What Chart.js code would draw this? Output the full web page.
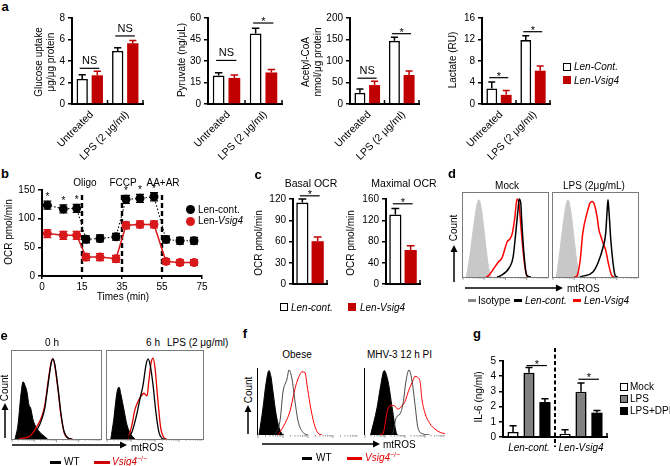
<!DOCTYPE html>
<html>
<head>
<meta charset="utf-8">
<title>Vsig4 figure</title>
<script src="https://cdn.jsdelivr.net/npm/chart.js@4.4.1/dist/chart.umd.min.js"></script>
<style>
  html, body { margin: 0; padding: 0; background: #fff; }
  #fig { position: relative; width: 670px; height: 466px; overflow: hidden;
         font-family: "Liberation Sans", Arial, sans-serif; color: #000; }
  #fig canvas { position: absolute; }
  .t { position: absolute; white-space: nowrap; font-size: 10px; line-height: 1; }
  .sq { position: absolute; box-sizing: border-box; }
  #fig svg { position: absolute; left: 0; top: 0; }
  sup { font-size: 7px; }
</style>
</head>
<body>
<div id="fig"></div>
<script>
/* ==========================================================================
DATA
========================================================================== */

// a: metabolites, groups = [Untreated, LPS]
const groupLabels = ["Untreated", "LPS (2 μg/ml)"];
const glucoseCont = [2.33, 4.93];
const glucoseContErr = [0.4, 0.31];
const glucoseVsig4 = [2.67, 5.65];
const glucoseVsig4Err = [0.37, 0.25];
const pyruvateCont = [19.8, 49.2];
const pyruvateContErr = [2, 3.7];
const pyruvateVsig4 = [18.2, 22];
const pyruvateVsig4Err = [2, 2];
const acetylCont = [26, 147];
const acetylContErr = [9, 8];
const acetylVsig4 = [44, 67.5];
const acetylVsig4Err = [9, 9];
const lactateCont = [2.9, 11.9];
const lactateContErr = [1.2, 0.8];
const lactateVsig4 = [1.7, 6.2];
const lactateVsig4Err = [0.8, 0.87];

// b: OCR trace
const ocrTickMinutes = [0, 15, 35, 55, 75];
const ocrTimes = [2, 8, 13, 17, 24, 32, 37, 44, 51, 57, 64, 71];
const ocrCont = [123.6, 117, 118, 64, 65.5, 68.4, 133.7, 135.4, 138.2, 63.8, 61.5, 61.5];
const ocrContErr = [7, 7, 7, 6, 6, 6, 7, 7, 7, 6, 6, 6];
const ocrVsig4 = [74, 71, 71, 33, 33, 30, 88.4, 90, 90, 25.4, 23.5, 23.5];
const ocrVsig4Err = [7, 7, 7, 6, 6, 6, 6, 6, 6, 5, 5, 5];
const ocrStars = [0, 1, 2, 6, 7, 8];
const injectionTimes = [15, 35, 55];
const injectionNames = ["Oligo", "FCCP", "AA+AR"];

// c: basal / maximal OCR
const basalCont = [115], basalContErr = [5];
const basalVsig4 = [60.4], basalVsig4Err = [6];
const maximalCont = [131], maximalContErr = [11];
const maximalVsig4 = [64], maximalVsig4Err = [8];

// g: IL-6
const il6Groups = ["Len-cont.", "Len-Vsig4"];
const il6Mock = [0.33, 0.22], il6MockErr = [0.41, 0.25];
const il6Lps = [4.22, 2.98], il6LpsErr = [0.35, 0.58];
const il6Dpi = [2.3, 1.6], il6DpiErr = [0.22, 0.15];

// d/e/f: flow histograms, [channel, % of max count]
const dIsotype = [[4, 0], [8, 25], [12, 56], [16, 84], [18.8, 92], [22, 78], [26, 44], [30, 12], [33, 0]];
const dMockVsig4 = [[27, 0], [29.4, 1], [41, 17], [46, 23], [52, 42], [55, 45], [58, 52], [61, 71], [63.5, 93], [66, 86], [68, 62], [70.6, 32], [73, 11], [75.3, 1], [78, 0]];
const dMockCont = [[40, 0], [43.5, 1], [55, 12], [59, 24], [62, 52], [65, 83], [66, 93], [68, 88], [69, 68], [72, 24], [75, 2], [80, 0]];
const dLpsIsotype = [[4, 0], [7, 22], [11, 55], [15, 84], [17.6, 92], [21, 78], [25, 44], [29, 12], [32, 0]];
const dLpsVsig4 = [[25, 0], [28, 1], [32, 20], [35, 52], [40, 76], [43.5, 88], [46, 90], [48, 88], [52, 71], [54, 56], [56.5, 48], [59, 40], [62, 32], [65, 17], [69, 2], [72, 0]];
const dLpsCont = [[32, 0], [35, 1], [47, 6], [53, 17], [59, 36], [62, 52], [63.5, 76], [64.7, 92], [66, 76], [68, 44], [70.6, 17], [73, 2], [76, 0]];

const e0Fill = [[3.4, 0], [6.7, 16], [10, 50], [12.4, 65], [14.6, 61], [16.9, 53], [19, 39], [21, 35], [23.6, 22], [28, 12], [34, 5], [40, 0]];
const e0Vsig4 = [[8, 0], [12, 1], [20, 3], [28, 14], [34, 27], [37, 39], [40.4, 64], [44, 87], [46, 91], [48, 84], [51.7, 56], [55, 27], [58.4, 8], [63, 1], [68, 0]];
const e0Wt = [[18, 0], [20, 1], [28, 10], [34, 24], [37, 36], [40.4, 61], [44, 86], [46, 91], [48, 85], [51.7, 58], [55, 29], [58.4, 9], [63, 1], [67, 0]];
const e6Fill = [[4, 0], [7, 22], [10.4, 53], [12.5, 59], [14.6, 50], [17.7, 33], [20.8, 16], [25, 5], [29, 0]];
const e6Vsig4 = [[22, 0], [26, 16], [29, 33], [32, 42], [35, 48], [38.5, 52], [41.7, 49], [43.7, 67], [46, 87], [48, 92], [50, 81], [53, 44], [56, 12], [59, 2], [62, 0]];
const e6Wt = [[21, 0], [26, 8], [31, 28], [34, 44], [37.5, 61], [40.6, 84], [42.7, 91], [45, 84], [48, 61], [51, 30], [54, 8], [57, 1], [60, 0]];

const fObeseFill = [[1, 0], [5, 42], [8, 80], [11, 100], [13, 90], [15, 67], [18, 33], [21, 12], [24, 2], [26, 0]];
const fObeseWt = [[17, 0], [22, 22], [25, 67], [29, 87], [31, 101], [34, 87], [37, 52], [40, 22], [45, 4], [50, 0]];
const fObeseVsig4 = [[20, 0], [27, 18], [32, 37], [37, 72], [40, 87], [44, 98], [47, 97], [49, 78], [52, 48], [56, 18], [60, 3], [64, 0]];
const fMhvFill = [[7, 0], [15, 42], [19, 72], [24, 100], [29, 82], [34, 42], [39, 4], [41, 0]];
const fMhvWt = [[33, 0], [35, 4], [39, 27], [44, 33], [48, 52], [51, 82], [55, 101], [59, 82], [63, 42], [66, 12], [72, 2], [81, 0]];
const fMhvVsig4 = [[18, 0], [22, 1], [29, 42], [34, 46], [37.5, 45], [41, 40], [46, 45], [50, 52], [54, 67], [59, 82], [62.5, 91], [65, 90], [69, 82], [71, 57], [75, 34], [81, 18], [87.5, 9], [94, 4], [100, 2]];

/* ==========================================================================
HELPERS
========================================================================== */
Chart.defaults.font.family = "'Liberation Sans', Arial, sans-serif";
Chart.defaults.font.size = 10;
Chart.defaults.color = "#000";
Chart.defaults.animation = false;

const fig = document.getElementById("fig");
const RED = "#c00000";
const FONT = "'Liberation Sans', Arial, sans-serif";

function txt(html, x, y, o = {}) {
    const d = document.createElement("div");
    d.className = "t";
    d.innerHTML = html;
    d.style.left = x + "px";
    d.style.top = y + "px";
    d.style.fontSize = (o.size || 10) + "px";
    if (o.bold) d.style.fontWeight = "bold";
    if (o.italic) d.style.fontStyle = "italic";
    if (o.color) d.style.color = o.color;
    let tf = `translate(${o.left ? 0 : -50}%, -50%)`;
    if (o.rot) tf += ` rotate(${o.rot}deg)`;
    d.style.transform = tf;
    fig.appendChild(d);
}

function square(x, y, w, h, fill, border, round) {
    const d = document.createElement("div");
    d.className = "sq";
    Object.assign(d.style, {
        left: x + "px", top: y + "px", width: w + "px", height: h + "px",
        background: fill, border: border ? "1.5px solid " + border : "none",
        borderRadius: round ? "50%" : "0",
    });
    fig.appendChild(d);
}

function makeCanvas(x, y, w, h) {
    const cv = document.createElement("canvas");
    cv.width = w;
    cv.height = h;
    cv.style.left = x + "px";
    cv.style.top = y + "px";
    fig.appendChild(cv);
    return cv;
}

const yGrid = { drawOnChartArea: false, tickLength: 4, color: "#000", lineWidth: 1.5 };
const axisBorder = { color: "#000", width: 2 };

// prism-style bar chart with one-sided error bars and brackets
function barChart(c) {
    const padL = c.padL ?? 30, padT = c.padT ?? 10, padR = 8, padB = c.padB ?? 16;
    const cv = makeCanvas(c.x - padL, c.y - padT, c.w + padL + padR, c.h + padT + padB);

    const extras = {
        id: "extras",
        afterDatasetsDraw(chart) {
            const ctx = chart.ctx, xs = chart.scales.x, ys = chart.scales.y, area = chart.chartArea;
            ctx.save();
            c.series.forEach((s, di) => {
                chart.getDatasetMeta(di).data.forEach((bar, i) => {
                    const top = ys.getPixelForValue(s.values[i] + s.errors[i]);
                    const cap = bar.width * 0.32;
                    ctx.strokeStyle = s.errColor || s.border;
                    ctx.lineWidth = 1.5;
                    ctx.beginPath();
                    ctx.moveTo(bar.x, bar.y);
                    ctx.lineTo(bar.x, top);
                    ctx.moveTo(bar.x - cap, top);
                    ctx.lineTo(bar.x + cap, top);
                    ctx.stroke();
                });
            });

            const n = c.labels.length;
            const half = n > 1 ? (xs.getPixelForValue(1) - xs.getPixelForValue(0)) / 2 : (area.right - area.left) / 2;
            ctx.strokeStyle = "#000";
            ctx.lineWidth = 1.5;
            for (let i = 0; i < n; i++) {
                const xe = xs.getPixelForValue(i) + half;
                if (c.divider && i < n - 1) continue;
                ctx.beginPath();
                ctx.moveTo(xe, area.bottom);
                ctx.lineTo(xe, area.bottom - 4);
                ctx.stroke();
            }

            if (c.divider) {
                const xd = xs.getPixelForValue(0) + half;
                ctx.setLineDash([4, 2.5]);
                ctx.lineWidth = 2;
                ctx.beginPath();
                ctx.moveTo(xd, area.top - 13);
                ctx.lineTo(xd, area.bottom + 10);
                ctx.stroke();
                ctx.setLineDash([]);
            }

            // rotated group labels (45 degrees, ending under the group)
            if (c.rotate) {
                ctx.fillStyle = "#000";
                ctx.font = "10.5px " + FONT;
                ctx.textAlign = "right";
                ctx.textBaseline = "middle";
                c.labels.forEach((lab, i) => {
                    ctx.save();
                    ctx.translate(xs.getPixelForValue(i) + 2, area.bottom + 9);
                    ctx.rotate(-Math.PI / 4);
                    ctx.fillText(lab, 0, 0);
                    ctx.restore();
                });
            }

            (c.sig || []).forEach((b) => {
                const a = chart.getDatasetMeta(b.a ?? 0).data[b.group];
                const z = chart.getDatasetMeta(b.b ?? c.series.length - 1).data[b.group];
                const yy = ys.getPixelForValue(b.level);
                ctx.strokeStyle = "#000";
                ctx.lineWidth = 1.2;
                ctx.beginPath();
                ctx.moveTo(a.x - 2.5, yy);
                ctx.lineTo(z.x + 2, yy);
                ctx.stroke();
                ctx.fillStyle = "#000";
                ctx.font = "11px " + FONT;
                ctx.textAlign = "center";
                ctx.textBaseline = "alphabetic";
                ctx.fillText(b.text, (a.x + z.x) / 2, b.text === "*" ? yy + 2 : yy - 4);
            });
            ctx.restore();
        },
    };

    new Chart(cv, {
        type: "bar",
        data: {
            labels: c.labels,
            datasets: c.series.map((s) => ({
                data: s.values,
                backgroundColor: s.fill,
                borderColor: s.border,
                borderWidth: s.fill === s.border ? 0 : 1.6,
                categoryPercentage: c.catPct,
                barPercentage: c.barPct,
            })),
        },
        options: {
            responsive: false,
            events: [],
            layout: { padding: { top: padT, right: padR, left: 0, bottom: 0 } },
            plugins: { legend: { display: false }, tooltip: { enabled: false } },
            scales: {
                x: {
                    grid: { display: false },
                    border: axisBorder,
                    afterFit: (s) => { s.height = padB; },
                    ticks: {
                        display: c.showX !== false && !c.rotate,
                        autoSkip: false,
                        maxRotation: 0,
                        padding: -3,
                        font: { size: 10, style: c.italic ? "italic" : "normal" },
                    },
                },
                y: {
                    min: 0,
                    max: c.yMax,
                    afterFit: (s) => { s.width = padL; },
                    ticks: { stepSize: c.yStep, padding: 3 },
                    grid: yGrid,
                    border: axisBorder,
                },
            },
        },
        plugins: [extras],
    });
}

// flow cytometry histogram overlay
function histogram(c) {
    const cv = makeCanvas(c.x - 1, c.y - 1, c.w + 2, c.h + 6);
    const logTicks = [];
    for (let d = 0; d < 4; d++) for (let k = 1; k <= 9; k++) logTicks.push({ u: (d + Math.log10(k)) * 25, major: k === 1 });

    const frame = {
        id: "frame",
        afterDatasetsDraw(chart) {
            const ctx = chart.ctx, a = chart.chartArea, xs = chart.scales.x;
            ctx.save();
            ctx.strokeStyle = c.frameColor || "#7a7a7a";
            ctx.lineWidth = 1;
            if (c.frame === "box") {
                ctx.strokeRect(a.left - 0.5, a.top - 0.5, a.right - a.left + 1, a.bottom - a.top + 1);
            } else {
                ctx.beginPath();
                ctx.moveTo(a.left - 0.5, a.top);
                ctx.lineTo(a.left - 0.5, a.bottom);
                ctx.stroke();
            }
            ctx.strokeStyle = "#777";
            ctx.lineWidth = 0.7;
            logTicks.forEach((t) => {
                const px = xs.getPixelForValue(t.u);
                ctx.beginPath();
                ctx.moveTo(px, a.bottom);
                ctx.lineTo(px, a.bottom + (t.major ? 3 : 1.6));
                ctx.stroke();
            });
            ctx.restore();
        },
    };

    new Chart(cv, {
        type: "line",
        data: {
            datasets: c.curves.map((k) => ({
                data: k.pts.map((p) => ({ x: p[0], y: p[1] })),
                borderColor: k.color,
                borderWidth: k.lw || 1.3,
                backgroundColor: k.fill || "transparent",
                fill: k.fill ? "origin" : false,
                pointRadius: 0,
                cubicInterpolationMode: "monotone",
            })),
        },
        options: {
            responsive: false,
            events: [],
            layout: { padding: { left: 1, top: 1, right: 1, bottom: 5 } },
            plugins: { legend: { display: false }, tooltip: { enabled: false } },
            scales: {
                x: { type: "linear", min: 0, max: 100, display: false },
                y: { min: 0, max: c.yMax || 100, display: false },
            },
        },
        plugins: [frame],
    });
}

/* ==========================================================================
PANEL a
========================================================================== */
txt("a", 5, 6, { bold: true, size: 13 });

const aPanels = [
    { x: 72, w: 71, max: 8, step: 2, c: glucoseCont, ce: glucoseContErr, v: glucoseVsig4, ve: glucoseVsig4Err,
      sig: [[0, 3.32, "NS"], [1, 6.33, "NS"]] },
    { x: 208, w: 74, max: 60, step: 15, c: pyruvateCont, ce: pyruvateContErr, v: pyruvateVsig4, ve: pyruvateVsig4Err,
      sig: [[0, 30.4, "NS"], [1, 56.5, "*"]] },
    { x: 350, w: 69, max: 200, step: 50, c: acetylCont, ce: acetylContErr, v: acetylVsig4, ve: acetylVsig4Err,
      sig: [[0, 60, "NS"], [1, 163.5, "*"]] },
    { x: 482, w: 68, max: 16, step: 4, c: lactateCont, ce: lactateContErr, v: lactateVsig4, ve: lactateVsig4Err,
      sig: [[0, 4.9, "*"], [1, 13.45, "*"]] },
];

aPanels.forEach((p) => {
    barChart({
        x: p.x, y: 18, w: p.w, h: 86,
        labels: groupLabels, yMax: p.max, yStep: p.step,
        rotate: true, padB: 60, catPct: 0.85, barPct: 0.75,
        series: [
            { values: p.c, errors: p.ce, fill: "#fff", border: "#000" },
            { values: p.v, errors: p.ve, fill: RED, border: RED },
        ],
        sig: p.sig.map((s) => ({ group: s[0], level: s[1], text: s[2] })),
    });
});

txt("Glucose uptake", 39, 62, { rot: -90 });
txt("μg/μg protein", 51, 62, { rot: -90 });
txt("Pyruvate (ng/μL)", 182, 60, { rot: -90 });
txt("Acetyl-CoA", 306, 62, { rot: -90 });
txt("nmol/μg protein", 318, 62, { rot: -90 });
txt("Lactate (RU)", 453, 60, { rot: -90 });

square(563, 63, 8, 8, "#fff", "#000");
txt("Len-Cont.", 574, 67, { left: true, italic: true });
square(563, 76, 8, 8, RED);
txt("Len-Vsig4", 574, 81, { left: true, italic: true });

/* ==========================================================================
PANEL b
========================================================================== */
txt("b", 5, 173, { bold: true, size: 13 });

function toAxis(t) {
    for (let i = 0; i < ocrTickMinutes.length - 1; i++) {
        const a = ocrTickMinutes[i], b = ocrTickMinutes[i + 1];
        if (t <= b) return i + (t - a) / (b - a);
    }
    return ocrTickMinutes.length - 1;
}

const ocrSeries = [
    { values: ocrCont, errors: ocrContErr, color: "#000", err: "#000" },
    { values: ocrVsig4, errors: ocrVsig4Err, color: "#d7191c", err: "#d7191c" },
];

const ocrExtras = {
    id: "ocrExtras",
    beforeDatasetsDraw(chart) {
        const ctx = chart.ctx, xs = chart.scales.x, ys = chart.scales.y, a = chart.chartArea;
        ctx.save();
        ctx.strokeStyle = "#000";
        ctx.lineWidth = 2.4;
        ctx.setLineDash([5, 3]);
        injectionTimes.forEach((t) => {
            const px = xs.getPixelForValue(toAxis(t));
            ctx.beginPath();
            ctx.moveTo(px, a.top + 5);
            ctx.lineTo(px, a.bottom);
            ctx.stroke();
        });
        ctx.setLineDash([]);
        ocrSeries.forEach((s, di) => {
            chart.getDatasetMeta(di).data.forEach((pt, i) => {
                const y1 = ys.getPixelForValue(s.values[i] + s.errors[i]);
                const y2 = ys.getPixelForValue(s.values[i] - s.errors[i]);
                ctx.strokeStyle = s.err;
                ctx.lineWidth = 1.3;
                ctx.beginPath();
                ctx.moveTo(pt.x, y1); ctx.lineTo(pt.x, y2);
                ctx.moveTo(pt.x - 4, y1); ctx.lineTo(pt.x + 4, y1);
                ctx.moveTo(pt.x - 4, y2); ctx.lineTo(pt.x + 4, y2);
                ctx.stroke();
            });
        });
        ctx.restore();
    },
    afterDatasetsDraw(chart) {
        const ctx = chart.ctx, ys = chart.scales.y;
        ctx.save();
        ctx.fillStyle = "#000";
        ctx.font = "10px " + FONT;
        ctx.textAlign = "center";
        const meta = chart.getDatasetMeta(0);
        ocrStars.forEach((i) => {
            const top = ys.getPixelForValue(ocrCont[i] + ocrContErr[i]);
            ctx.fillText("*", meta.data[i].x, top - 1);
        });
        ctx.restore();
    },
};

new Chart(makeCanvas(42 - 34, 190 - 10, 160 + 34 + 8, 86 + 10 + 16), {
    type: "line",
    data: {
        datasets: ocrSeries.map((s, di) => ({
            data: ocrTimes.map((t, i) => ({ x: toAxis(t), y: s.values[i] })),
            borderColor: s.color,
            borderWidth: di === 0 ? 1.1 : 1.5,
            borderDash: di === 0 ? [1.5, 2] : [],
            pointRadius: 4.5,
            pointBackgroundColor: s.color,
            pointBorderWidth: 0,
        })),
    },
    options: {
        responsive: false,
        events: [],
        layout: { padding: { top: 10, right: 8, left: 0, bottom: 0 } },
        plugins: { legend: { display: false }, tooltip: { enabled: false } },
        scales: {
            x: {
                type: "linear", min: 0, max: 4,
                afterFit: (s) => { s.height = 16; },
                ticks: { stepSize: 1, padding: 2, callback: (v) => ocrTickMinutes[v] },
                grid: { drawOnChartArea: false, tickLength: 3, color: "#000", lineWidth: 1.5 },
                border: axisBorder,
            },
            y: {
                min: 0, max: 150,
                afterFit: (s) => { s.width = 34; },
                ticks: { stepSize: 50, padding: 3 },
                grid: yGrid,
                border: axisBorder,
            },
        },
    },
    plugins: [ocrExtras],
});

txt("OCR pmol/min", 9, 232, { rot: -90 });
txt("Times (min)", 123, 297);
injectionNames.forEach((n, i) => txt(n, [85, 123, 163][i], 183));

square(186, 205, 9, 9, "#000", null, true);
txt("Len-cont.", 198, 209.5, { left: true });
square(186, 216.5, 9, 9, "#d7191c", null, true);
txt("Len-<i>Vsig4</i>", 198, 221, { left: true });

/* ==========================================================================
PANEL c
========================================================================== */
txt("c", 258, 174, { bold: true, size: 13 });

barChart({
    x: 293, y: 199, w: 34, h: 88, labels: [""], yMax: 120, yStep: 30,
    showX: false, padB: 6, catPct: 0.9, barPct: 0.8,
    series: [
        { values: basalCont, errors: basalContErr, fill: "#fff", border: "#000" },
        { values: basalVsig4, errors: basalVsig4Err, fill: RED, border: RED },
    ],
    sig: [{ group: 0, level: 124.5, text: "*" }],
});
barChart({
    x: 386, y: 199, w: 34, h: 88, labels: [""], yMax: 160, yStep: 40,
    showX: false, padB: 6, catPct: 0.9, barPct: 0.8,
    series: [
        { values: maximalCont, errors: maximalContErr, fill: "#fff", border: "#000" },
        { values: maximalVsig4, errors: maximalVsig4Err, fill: RED, border: RED },
    ],
    sig: [{ group: 0, level: 151, text: "*" }],
});

txt("Basal OCR", 311, 183, { size: 10.5 });
txt("Maximal OCR", 404, 183, { size: 10.5 });
txt("OCR pmol/min", 259, 243, { rot: -90 });
txt("OCR pmol/min", 351, 243, { rot: -90 });

square(280, 303, 8, 8, "#fff", "#000");
txt("Len-cont.", 291, 307.5, { left: true, italic: true });
square(348, 303, 8, 8, RED);
txt("Len-Vsig4", 360, 307.5, { left: true, italic: true });

/* ==========================================================================
PANEL d
========================================================================== */
txt("d", 452, 173, { bold: true, size: 13 });
histogram({
    x: 463, y: 193, w: 85, h: 84, frame: "box",
    curves: [
        { pts: dMockCont, color: "#000", lw: 1.5 },
        { pts: dMockVsig4, color: "#f00", lw: 1.5 },
        { pts: dIsotype, color: "#c8c8c8", fill: "#c8c8c8", lw: 1 },
    ],
});
histogram({
    x: 553, y: 193, w: 85, h: 84, frame: "box",
    curves: [
        { pts: dLpsCont, color: "#000", lw: 1.5 },
        { pts: dLpsVsig4, color: "#f00", lw: 1.5 },
        { pts: dLpsIsotype, color: "#c8c8c8", fill: "#c8c8c8", lw: 1 },
    ],
});
txt("Mock", 507, 186);
txt("LPS (2μg/mL)", 594, 186);
txt("Count", 454, 228, { rot: -90 });
txt("mtROS", 567, 289, { left: true });

square(468, 298.5, 8, 3, "#888");
txt("Isotype", 478, 300.5, { left: true });
square(514, 298.5, 8, 3, "#000");
txt("Len-cont.", 525, 300.5, { left: true, italic: true });
square(573, 298.5, 8, 3, "#f00");
txt("Len-Vsig4", 584, 300.5, { left: true, italic: true });

/* ==========================================================================
PANEL e
========================================================================== */
txt("e", 4, 335, { bold: true, size: 13 });
histogram({
    x: 12, y: 351, w: 89, h: 88, frame: "box",
    curves: [
        { pts: e0Wt, color: "#000", lw: 1.3 },
        { pts: e0Vsig4, color: "#e00000", lw: 1.3 },
        { pts: e0Fill, color: "#000", fill: "#000", lw: 1 },
    ],
});
histogram({
    x: 107, y: 351, w: 96, h: 88, frame: "box",
    curves: [
        { pts: e6Wt, color: "#000", lw: 1.3 },
        { pts: e6Vsig4, color: "#e00000", lw: 1.3 },
        { pts: e6Fill, color: "#000", fill: "#000", lw: 1 },
    ],
});
txt("0 h", 52, 343);
txt("6 h", 153, 343);
txt("LPS (2 μg/ml)", 167, 343, { left: true });
txt("Count", 5, 388, { rot: -90 });
txt("mtROS", 131, 448, { left: true });
square(50, 460.5, 11, 3, "#000");
txt("WT", 64, 462, { left: true });
square(94, 460.5, 16, 3, "#d00000");
txt("<i>Vsig4</i><sup>−/−</sup>", 112, 461, { left: true, color: "#d00000" });

/* ==========================================================================
PANEL f
========================================================================== */
txt("f", 245, 333, { bold: true, size: 13 });
histogram({
    x: 258, y: 368, w: 100, h: 67, frame: "axis", yMax: 104, frameColor: "#000",
    curves: [
        { pts: fObeseWt, color: "#333", lw: 0.9 },
        { pts: fObeseVsig4, color: "#f00", lw: 1 },
        { pts: fObeseFill, color: "#000", fill: "#000", lw: 1 },
    ],
});
histogram({
    x: 365, y: 368, w: 80, h: 67, frame: "axis", yMax: 104, frameColor: "#000",
    curves: [
        { pts: fMhvWt, color: "#333", lw: 0.9 },
        { pts: fMhvVsig4, color: "#f00", lw: 1 },
        { pts: fMhvFill, color: "#000", fill: "#000", lw: 1 },
    ],
});
txt("Obese", 297, 355);
txt("MHV-3 12 h PI", 367, 355, { left: true });
txt("Count", 249, 390, { rot: -90 });
txt("mtROS", 383, 445, { left: true });
square(302, 456.5, 10, 3, "#000");
txt("WT", 316, 458, { left: true });
square(347, 456.5, 15, 3, "#e00000");
txt("<i>Vsig4</i><sup>−/−</sup>", 365, 457, { left: true, color: "#e00000" });

/* ==========================================================================
PANEL g
========================================================================== */
txt("g", 477, 333, { bold: true, size: 13 });
barChart({
    x: 503, y: 361, w: 104, h: 76, labels: il6Groups, yMax: 5, yStep: 1,
    italic: true, padT: 14, padB: 20, catPct: 0.92, barPct: 0.7, divider: true,
    series: [
        { values: il6Mock, errors: il6MockErr, fill: "#fff", border: "#000" },
        { values: il6Lps, errors: il6LpsErr, fill: "#808080", border: "#000", errColor: "#000" },
        { values: il6Dpi, errors: il6DpiErr, fill: "#000", border: "#000" },
    ],
    sig: [
        { group: 0, a: 1, b: 2, level: 4.7, text: "*" },
        { group: 1, a: 1, b: 2, level: 3.8, text: "*" },
    ],
});
txt("IL-6 (ng/ml)", 479, 397, { rot: -90 });
square(620, 383, 8, 8, "#fff", "#000");
txt("Mock", 630, 387, { left: true });
square(620, 395, 8, 8, "#808080", "#000");
txt("LPS", 630, 399, { left: true });
square(620, 407, 8, 8, "#000");
txt("LPS+DPI", 630, 411, { left: true });

/* ==========================================================================
ARROWS (Count / mtROS)
========================================================================== */
const arrows = [
    [454, 282, 454, 245], [465, 288, 563, 288],
    [5, 438, 5, 403], [12, 445, 127, 445],
    [248, 434, 248, 405], [262, 444, 380, 444],
];
let svg = '<svg width="670" height="466" xmlns="http://www.w3.org/2000/svg">';
arrows.forEach(([x1, y1, x2, y2]) => {
    const ang = Math.atan2(y2 - y1, x2 - x1), L = 7, W = 3.5;
    const bx = x2 - L * Math.cos(ang), by = y2 - L * Math.sin(ang);
    const px = -Math.sin(ang) * W, py = Math.cos(ang) * W;
    svg += `<line x1="${x1}" y1="${y1}" x2="${bx}" y2="${by}" stroke="#000" stroke-width="1.5"/>`;
    svg += `<polygon points="${x2},${y2} ${bx + px},${by + py} ${bx - px},${by - py}" fill="#000"/>`;
});
svg += "</svg>";
fig.insertAdjacentHTML("beforeend", svg);
</script>
</body>
</html>
